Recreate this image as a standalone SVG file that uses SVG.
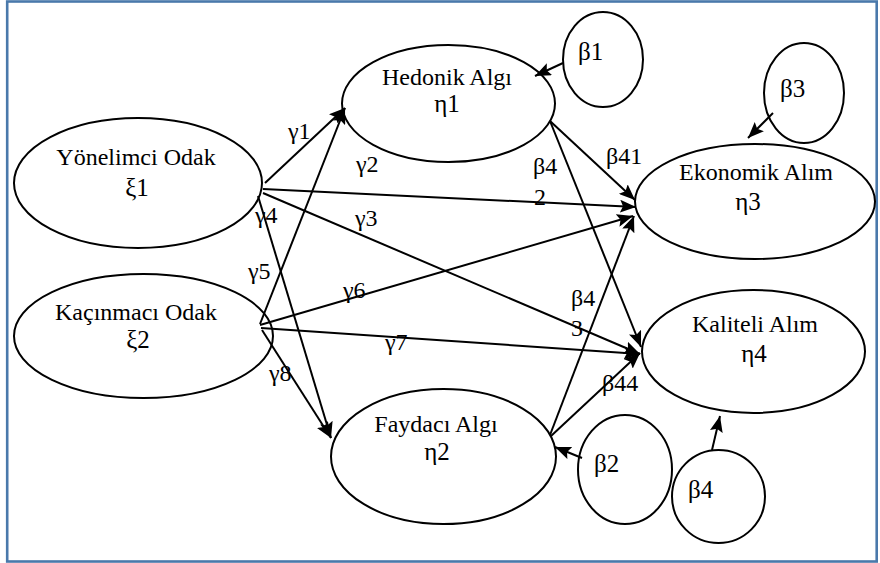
<svg xmlns="http://www.w3.org/2000/svg" width="880" height="563" viewBox="0 0 880 563">
<defs>
<marker id="ah" markerUnits="userSpaceOnUse" markerWidth="17" markerHeight="13" refX="16" refY="6.5" orient="auto">
<path d="M0,0 L16,6.5 L0,13 L3,6.5 z" fill="#000"/>
</marker>
<style>
.n{fill:#fff;stroke:#000;stroke-width:2}
.t{font-size:24px;fill:#000}
.g{font-size:25px;fill:#000}
.m{text-anchor:middle}
.l{font-size:24px;fill:#000}
.c{stroke:#000;stroke-width:2;fill:none;marker-end:url(#ah)}
</style>
</defs>
<rect x="0" y="0" width="880" height="563" fill="#fff"/>
<rect x="7.2" y="1.5" width="869.5" height="560" fill="none" stroke="#4a79ab" stroke-width="2.6"/>
<g font-family="'Liberation Serif', 'DejaVu Serif', serif">
<g id="n-yonelimci"><ellipse class="n" cx="138" cy="183" rx="124" ry="65"/><text class="t m" x="136" y="165">Yönelimci Odak</text><text class="g m" x="137" y="196">ξ1</text></g>
<g id="n-kacinmaci"><ellipse class="n" cx="143.5" cy="336" rx="129.5" ry="62"/><text class="t m" x="136" y="320">Kaçınmacı Odak</text><text class="g m" x="138" y="348">ξ2</text></g>
<g id="n-hedonik"><ellipse class="n" cx="448.5" cy="103.5" rx="106.5" ry="58.5"/><text class="t m" x="447" y="85">Hedonik Algı</text><text class="g m" x="447" y="112">η1</text></g>
<g id="n-faydaci"><ellipse class="n" cx="443.5" cy="456.5" rx="112.5" ry="67.5"/><text class="t m" x="436" y="432">Faydacı Algı</text><text class="g m" x="437" y="460">η2</text></g>
<g id="n-ekonomik"><ellipse class="n" cx="755" cy="201.5" rx="120" ry="57.5"/><text class="t m" x="756" y="180">Ekonomik Alım</text><text class="g m" x="748" y="210">η3</text></g>
<g id="n-kaliteli"><ellipse class="n" cx="753.5" cy="351.5" rx="111.5" ry="61.5"/><text class="t m" x="755" y="332">Kaliteli Alım</text><text class="g m" x="754" y="362">η4</text></g>
<g id="n-b1"><ellipse class="n" cx="603" cy="59.5" rx="40" ry="47.5"/><text class="g" x="578" y="60">β1</text></g>
<g id="n-b3"><ellipse class="n" cx="804" cy="93" rx="40" ry="50"/><text class="g" x="780" y="97">β3</text></g>
<g id="n-b2"><ellipse class="n" cx="625" cy="469.5" rx="47" ry="54.5"/><text class="g" x="594" y="472">β2</text></g>
<g id="n-b4"><ellipse class="n" cx="718.5" cy="496.5" rx="46.5" ry="46.5"/><text class="g" x="688" y="498">β4</text></g>
<g id="connectors">
<path class="c" d="M265,183 L345,108"/>
<path class="c" d="M263,189 L636,207"/>
<path class="c" d="M263,193 L640,354"/>
<path class="c" d="M258,196 L331,438"/>
<path class="c" d="M260,324 L345,108"/>
<path class="c" d="M260,325 L633,216"/>
<path class="c" d="M261,328 L640,354"/>
<path class="c" d="M262,330 L331,438"/>
<path class="c" d="M550,121 L635,200"/>
<path class="c" d="M550,121 L641,347"/>
<path class="c" d="M550,435 L634,216"/>
<path class="c" d="M551,436 L640,353"/>
<path class="c" d="M563,63 L535,76"/>
<path class="c" d="M773,113 L748,138"/>
<path class="c" d="M582,458 L555,447"/>
<path class="c" d="M712,450 L720,416"/>
</g>
<g id="labels">
<text class="l" x="288" y="139">γ1</text>
<text class="l" x="356" y="172">γ2</text>
<text class="l" x="355" y="226">γ3</text>
<text class="l" x="255" y="223">γ4</text>
<text class="l" x="248" y="279">γ5</text>
<text class="l" x="343" y="298">γ6</text>
<text class="l" x="385" y="350">γ7</text>
<text class="l" x="269" y="381">γ8</text>
<text class="l" x="606" y="164">β41</text>
<text class="l" x="533" y="174">β4</text>
<text class="l" x="534" y="205">2</text>
<text class="l" x="571" y="306">β4</text>
<text class="l" x="571" y="336">3</text>
<text class="l" x="602" y="391">β44</text>
</g>
</g>
</svg>
